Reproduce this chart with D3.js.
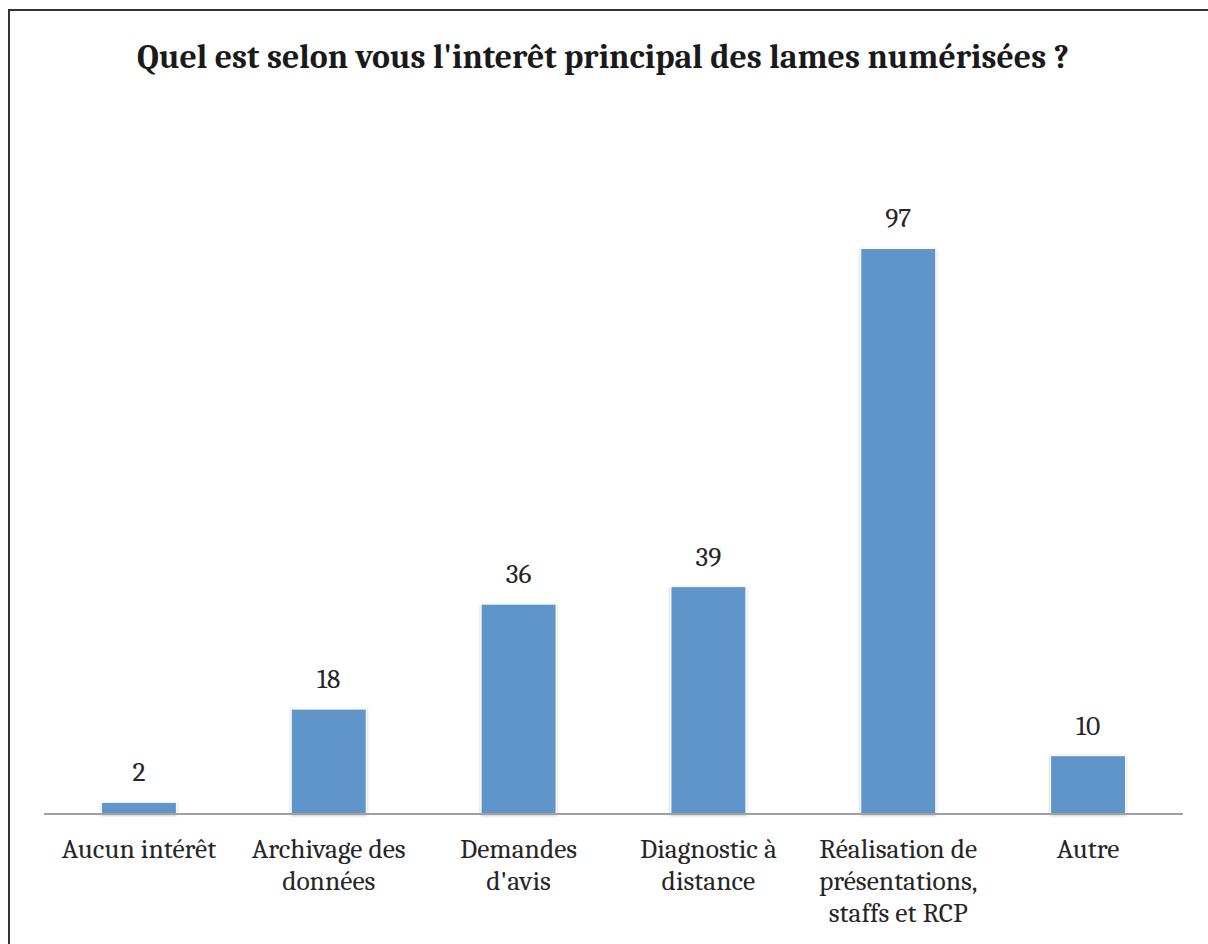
<!DOCTYPE html>
<html>
<head>
<meta charset="utf-8">
<script src="https://cdn.jsdelivr.net/npm/d3@7"></script>
<style>
  body { margin: 0; background: #fff; }
</style>
</head>
<body>
<div class="chart"></div>
<script>
var categories = ["Aucun intérêt", "Archivage des\ndonnées", "Demandes\nd'avis", "Diagnostic à\ndistance", "Réalisation de\nprésentations,\nstaffs et RCP", "Autre"];
var values = [2, 18, 36, 39, 97, 10];
var titleText = "Quel est selon vous l'interêt principal des lames numérisées ?";

var serif = "Caladea, Cambria, 'Liberation Serif', serif";

var svg = d3.select(".chart")
  .append("svg")
    .attr("width", 1208)
    .attr("height", 944);

var defs = svg.append("defs");
var shadow = defs.append("filter")
  .attr("id", "shadow")
  .attr("x", "-20%").attr("y", "-20%")
  .attr("width", "140%").attr("height", "140%");
shadow.append("feDropShadow")
  .attr("dx", 0).attr("dy", 1)
  .attr("stdDeviation", 1.5)
  .attr("flood-color", "#000")
  .attr("flood-opacity", 0.25);

// frame (only top and left edges show in the crop)
svg.append("rect")
  .attr("x", 9)
  .attr("y", 10)
  .attr("width", 1220)
  .attr("height", 960)
  .attr("fill", "none")
  .attr("stroke", "#333")
  .attr("stroke-width", 2);

var x = d3.scaleBand()
  .domain(categories)
  .range([44, 1183])
  .paddingInner(0.605)
  .paddingOuter(0.3025);

var y = d3.scaleLinear()
  .domain([0, 100])
  .range([814, 231]);

svg.append("text")
  .attr("x", 603)
  .attr("y", 68)
  .attr("text-anchor", "middle")
  .attr("fill", "#1a1a1a")
  .style("font-family", serif)
  .style("font-weight", "bold")
  .style("font-size", "33.8px")
  .text(titleText);

svg.selectAll(".bar")
  .data(values)
  .enter().append("rect")
    .attr("class", "bar")
    .attr("x", function(d, i) { return x(categories[i]); })
    .attr("y", function(d) { return y(d); })
    .attr("width", x.bandwidth())
    .attr("height", function(d) { return y(0) - y(d); })
    .attr("fill", "#5f95c8")
    .attr("stroke", "#fff")
    .attr("stroke-width", 1)
    .attr("filter", "url(#shadow)");

svg.selectAll(".val")
  .data(values)
  .enter().append("text")
    .attr("class", "val")
    .attr("x", function(d, i) { return x(categories[i]) + x.bandwidth() / 2; })
    .attr("y", function(d) { return y(d) - 21; })
    .attr("text-anchor", "middle")
    .attr("fill", "#262626")
    .style("font-family", serif)
    .style("font-size", "27.5px")
    .text(function(d) { return d; });

// baseline
svg.append("line")
  .attr("x1", 44)
  .attr("y1", y(0))
  .attr("x2", 1183)
  .attr("y2", y(0))
  .attr("stroke", "#a0a0a0")
  .attr("stroke-width", 2);

var labels = svg.selectAll(".cat")
  .data(categories)
  .enter().append("text")
    .attr("class", "cat")
    .attr("text-anchor", "middle")
    .attr("fill", "#262626")
    .style("font-family", serif)
    .style("font-size", "27.5px");

labels.each(function(c) {
  var cx = x(c) + x.bandwidth() / 2;
  d3.select(this).selectAll("tspan")
    .data(c.split("\n"))
    .enter().append("tspan")
      .attr("x", cx)
      .attr("y", function(d, i) { return 858 + i * 32; })
      .text(function(d) { return d; });
});
</script>
</body>
</html>
